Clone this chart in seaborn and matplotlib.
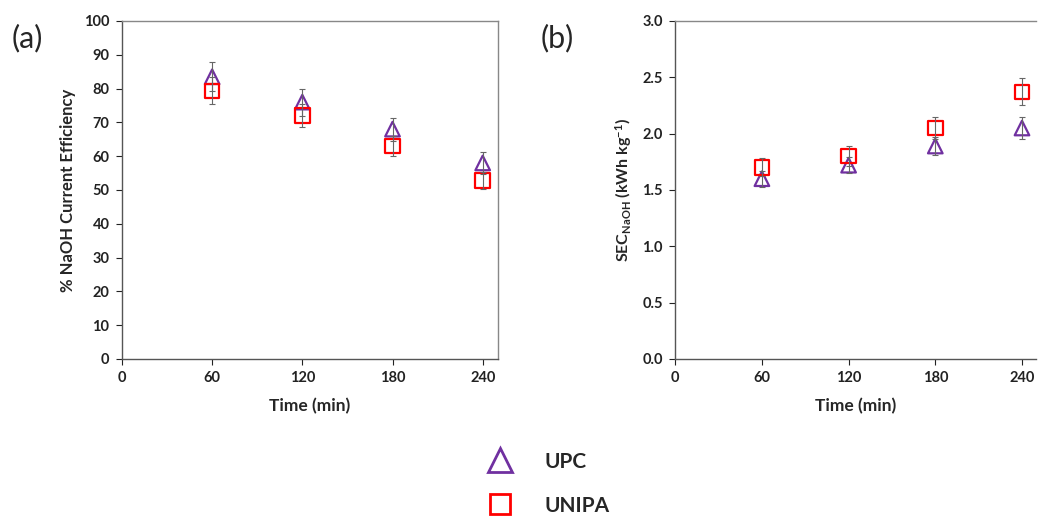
import matplotlib
matplotlib.use("Agg")
import matplotlib.pyplot as plt
import seaborn as sns
from matplotlib.lines import Line2D

# Data
time_min = [60, 120, 180, 240]

ce_upc = [83.5, 76.0, 68.0, 58.0]
ce_upc_err = [4.3, 4.0, 3.4, 3.2]
ce_unipa = [79.3, 72.0, 63.0, 52.8]
ce_unipa_err = [4.0, 3.5, 3.0, 2.5]

sec_upc = [1.60, 1.72, 1.89, 2.05]
sec_upc_err = [0.07, 0.07, 0.08, 0.10]
sec_unipa = [1.70, 1.80, 2.05, 2.37]
sec_unipa_err = [0.08, 0.09, 0.10, 0.12]

series_names = ['UPC', 'UNIPA']

purple = '#7030A0'
red = '#FF0000'

sns.set_theme(style='white')
plt.rcParams['font.family'] = ['Lato', 'DejaVu Sans']
plt.rcParams['font.weight'] = 'bold'
plt.rcParams['mathtext.fontset'] = 'custom'
plt.rcParams['mathtext.rm'] = 'Lato:bold'
plt.rcParams['mathtext.bf'] = 'Lato:bold'
plt.rcParams['mathtext.it'] = 'Lato:bold'

fig = plt.figure(figsize=(10.38, 5.18), dpi=100)
ax_a = fig.add_axes([0.1175, 0.307, 0.362, 0.6525])
ax_b = fig.add_axes([0.6505, 0.307, 0.348, 0.6525])


def draw_panel(ax, upc, upc_err, unipa, unipa_err):
    for vals, errs, col, mk in [(upc, upc_err, purple, '^'), (unipa, unipa_err, red, 's')]:
        sns.scatterplot(x=time_min, y=vals, marker=mk, s=110, facecolor='none',
                        edgecolor=col, linewidth=1.6, ax=ax, zorder=3)
        ax.errorbar(time_min, vals, yerr=errs, fmt='none', ecolor='#666666',
                    elinewidth=0.8, capsize=2.5, capthick=0.8, zorder=4)
    ax.set_xlim(0, 250)
    ax.set_xticks([0, 60, 120, 180, 240])
    ax.set_xlabel('Time (min)', fontsize=12.5, fontweight='bold', labelpad=9)
    ax.tick_params(axis='both', labelsize=10.5, colors='#222222', length=4,
                   width=0.8, direction='out', bottom=True, left=True, pad=5)
    for side in ['left', 'bottom']:
        ax.spines[side].set_color('#555555')
        ax.spines[side].set_linewidth(1.0)
    for side in ['top', 'right']:
        ax.spines[side].set_color('#888888')
        ax.spines[side].set_linewidth(1.0)
    ax.grid(False)


draw_panel(ax_a, ce_upc, ce_upc_err, ce_unipa, ce_unipa_err)
ax_a.set_ylim(0, 100)
ax_a.set_yticks(range(0, 101, 10))
ax_a.set_ylabel('% NaOH Current Efficiency', fontsize=12, fontweight='bold', labelpad=6)

draw_panel(ax_b, sec_upc, sec_upc_err, sec_unipa, sec_unipa_err)
ax_b.set_ylim(0, 3.0)
ax_b.set_yticks([0, 0.5, 1.0, 1.5, 2.0, 2.5, 3.0])
ax_b.set_yticklabels(['0.0', '0.5', '1.0', '1.5', '2.0', '2.5', '3.0'])
ax_b.set_ylabel(r'SEC$_{\mathrm{NaOH}}$ (kWh kg$^{\mathrm{-1}}$)', fontsize=11.5,
                fontweight='bold', labelpad=6)
# the right edge of panel (b) is cropped off in the original
ax_b.spines['right'].set_visible(False)

fig.text(0.011, 0.927, '(a)', fontsize=22, fontweight='normal', va='center')
fig.text(0.521, 0.927, '(b)', fontsize=22, fontweight='normal', va='center')

handles = [
    Line2D([], [], marker='^', linestyle='none', markerfacecolor='none',
           markeredgecolor=purple, markersize=17, markeredgewidth=2.0),
    Line2D([], [], marker='s', linestyle='none', markerfacecolor='none',
           markeredgecolor=red, markersize=15, markeredgewidth=2.0),
]
fig.legend(handles, series_names, loc='upper left', bbox_to_anchor=(0.4668, 0.128),
           frameon=False, handlelength=1.5, handletextpad=1.4, labelspacing=1.15,
           borderpad=0, borderaxespad=0,
           prop={'size': 15, 'weight': 'bold'})

fig.savefig('out.png', dpi=100)
